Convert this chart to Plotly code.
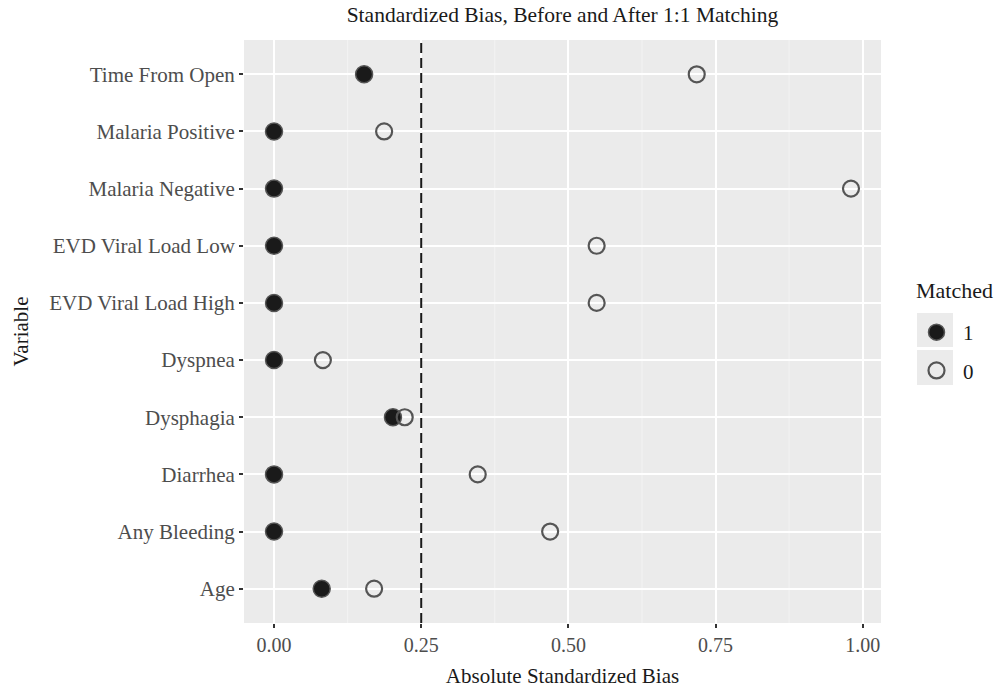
import plotly.graph_objects as go

variables = ["Age", "Any Bleeding", "Diarrhea", "Dysphagia", "Dyspnea",
             "EVD Viral Load High", "EVD Viral Load Low", "Malaria Negative",
             "Malaria Positive", "Time From Open"]
bias_matched = [0.081, 0.0, 0.0, 0.202, 0.0, 0.0, 0.0, 0.0, 0.0, 0.153]
bias_unmatched = [0.170, 0.469, 0.346, 0.222, 0.083, 0.548, 0.548, 0.980, 0.187, 0.718]
x_ticks = [0.0, 0.25, 0.5, 0.75, 1.0]
x_tick_labels = ["0.00", "0.25", "0.50", "0.75", "1.00"]
threshold = 0.25

FONT = "Liberation Serif"
FS = 21
PL, PR, PT, PB = 244, 881, 40, 623
PW, PH = PR - PL, PB - PT


def px_x(x):
    return (x - PL) / PW


def px_y(y):
    return (PB - y) / PH


fig = go.Figure()
fig.add_trace(go.Scatter(
    x=bias_matched, y=variables, mode="markers", name="1", legendgroup="a",
    marker=dict(size=17, color="#1a1a1a", line=dict(color="#555555", width=1.5)),
))
fig.add_trace(go.Scatter(
    x=bias_unmatched, y=variables, mode="markers", name="0", legendgroup="b",
    marker=dict(size=16, color="rgba(0,0,0,0)", line=dict(color="#555555", width=2.2)),
))
fig.add_vline(x=threshold, line=dict(color="#1a1a1a", width=2, dash="10px,5px"))

# minor gridlines
for mx in [0.125, 0.375, 0.625, 0.875]:
    fig.add_shape(type="line", xref="x", yref="paper", x0=mx, x1=mx, y0=0, y1=1,
                  line=dict(color="#f5f5f5", width=0.8), layer="below")

# legend key backgrounds
for y0, y1 in [(313, 347), (350, 385)]:
    fig.add_shape(type="rect", xref="paper", yref="paper",
                  x0=px_x(917), x1=px_x(953), y0=px_y(y1), y1=px_y(y0),
                  fillcolor="#EBEBEB", line=dict(width=0), layer="below")

fig.add_annotation(text="Matched", xref="paper", yref="paper", x=px_x(914), y=px_y(290),
                   xanchor="left", yanchor="middle", showarrow=False,
                   font=dict(size=22, family=FONT, color="#1a1a1a"))

fig.update_layout(
    width=994, height=692,
    margin=dict(l=PL, r=994 - PR, t=PT, b=692 - PB, autoexpand=False),
    paper_bgcolor="white", plot_bgcolor="#EBEBEB",
    font=dict(family=FONT, size=FS, color="#1a1a1a"),
    title=dict(text="Standardized Bias, Before and After 1:1 Matching",
               x=(PL + PR) / 2 / 994, xanchor="center", y=1 - 14 / 692, yanchor="middle",
               font=dict(size=21.5, family=FONT, color="#1a1a1a")),
    xaxis=dict(range=[-0.051, 1.031], tickvals=x_ticks, ticktext=x_tick_labels,
               showgrid=True, gridcolor="white", gridwidth=1.6, zeroline=False,
               ticks="outside", ticklen=4, tickcolor="#333333", tickwidth=1.5,
               tickfont=dict(size=20, family=FONT, color="#4d4d4d"),
               title=dict(text="Absolute Standardized Bias", standoff=13,
                          font=dict(size=FS, family=FONT, color="#1a1a1a"))),
    yaxis=dict(categoryorder="array", categoryarray=variables, range=[-0.6, 9.6],
               showgrid=True, gridcolor="white", gridwidth=1.6, zeroline=False,
               ticks="outside", ticklen=4, tickcolor="#333333", tickwidth=1.5,
               tickfont=dict(size=FS, family=FONT, color="#4d4d4d"),
               title=dict(text="Variable", standoff=14,
                          font=dict(size=FS, family=FONT, color="#1a1a1a"))),
    legend=dict(x=px_x(910), xanchor="left", y=px_y(312), yanchor="top",
                bgcolor="rgba(0,0,0,0)", font=dict(size=FS, family=FONT, color="#1a1a1a"),
                tracegroupgap=8, itemwidth=43),
    showlegend=True,
)
fig.write_html("out.html", config={"displayModeBar": False},
               post_script="document.body.style.margin='0';")
